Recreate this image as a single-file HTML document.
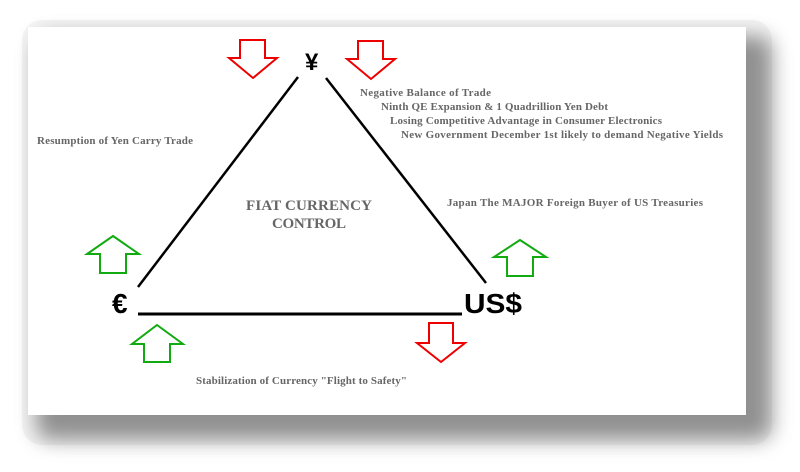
<!DOCTYPE html>
<html><head><meta charset="utf-8"><style>
html,body{margin:0;padding:0;background:#fff;width:800px;height:472px;overflow:hidden}
</style></head><body>
<svg width="800" height="472" viewBox="0 0 800 472" xmlns="http://www.w3.org/2000/svg">
<defs>
<filter id="sh" x="-10%" y="-10%" width="130%" height="140%">
<feGaussianBlur stdDeviation="10"/>
</filter>
</defs>
<rect x="0" y="0" width="800" height="472" fill="#fff"/>
<rect x="22" y="20" width="750" height="425" rx="20" fill="#f4f4f4"/>
<rect x="36" y="36" width="736" height="404" rx="14" fill="#666" opacity="0.7" filter="url(#sh)"/>
<rect x="28" y="27" width="718" height="388" fill="#fff"/>
<g fill="none" stroke="#000" stroke-width="2.5">
<line x1="298" y1="77" x2="138" y2="287"/>
<line x1="326" y1="78" x2="486" y2="283"/>
<line x1="138" y1="314" x2="462" y2="314" stroke-width="3"/>
</g>
<g fill="none" stroke="#e00" stroke-width="2">
<polygon points="240,40 265,40 265,58 277,58 253,78 229,58 240,58"/>
<polygon points="358,41 383,41 383,59 395,59 371,79 347,59 358,59"/>
<polygon points="429,323 453,323 453,343 465,343 441,362 417,343 429,343"/>
</g>
<g fill="none" stroke="#1a1" stroke-width="2">
<polygon points="113,236 139,254 126,254 126,273 100,273 100,254 87,254"/>
<polygon points="520,240 546,257 533,257 533,276 507,276 507,257 494,257"/>
<polygon points="157,325 183,344 170,344 170,362 144,362 144,344 132,344"/>
</g>
<g font-family="'Liberation Sans',sans-serif" font-weight="bold" fill="#000">
<text x="305" y="70" font-size="24">¥</text>
<text x="112" y="313" font-size="28">€</text>
<text x="464" y="313" font-size="28" textLength="58" lengthAdjust="spacingAndGlyphs">US$</text>
</g>
<g font-family="'Liberation Serif',serif" font-weight="bold" fill="#666" font-size="11">
<text x="360" y="96" textLength="131">Negative Balance of Trade</text>
<text x="381" y="110" textLength="227">Ninth QE Expansion &amp; 1 Quadrillion Yen Debt</text>
<text x="390" y="124" textLength="272">Losing Competitive Advantage in Consumer Electronics</text>
<text x="401" y="138" textLength="322">New Government December 1st likely to demand Negative Yields</text>
<text x="37" y="144" textLength="156">Resumption of Yen Carry Trade</text>
<text x="447" y="206" textLength="256">Japan The MAJOR Foreign Buyer of US Treasuries</text>
<text x="196" y="384" textLength="211">Stabilization of Currency "Flight to Safety"</text>
<text x="309" y="210" font-size="15" text-anchor="middle" textLength="126">FIAT CURRENCY</text>
<text x="309" y="228" font-size="15" text-anchor="middle" textLength="74">CONTROL</text>
</g>
</svg>
</body></html>
